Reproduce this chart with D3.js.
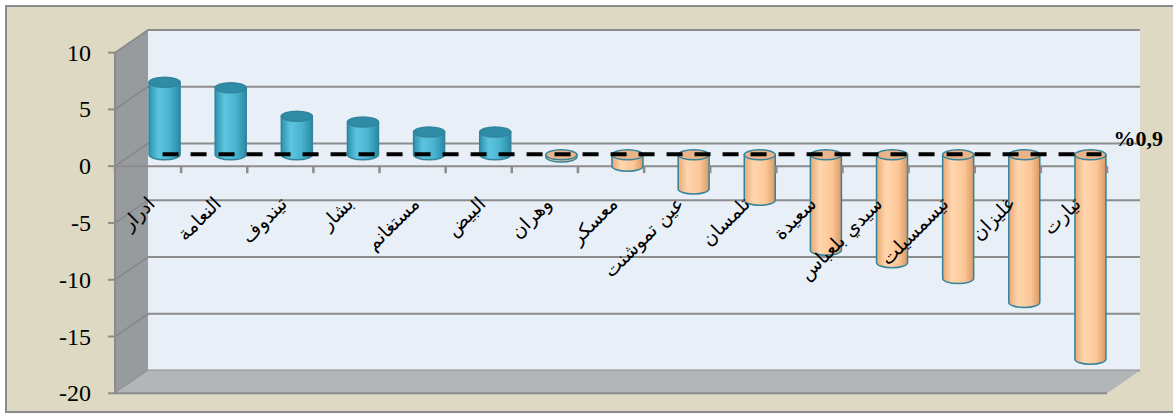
<!DOCTYPE html>
<html>
<head>
<meta charset="utf-8">
<script src="https://cdn.jsdelivr.net/npm/d3@7"></script>
<style>
    body { margin: 0; background: #fff; }
    svg { display: block; }
</style>
</head>
<body>
<div id="chart"></div>
<script>
(function(){
    "use strict";
    //====================================
    //data
    var categories = ['ادرار', 'النعامة', 'تيندوف', 'بشار', 'مستغانم', 'البيض', 'وهران', 'معسكر',
        'عين تموشنت', 'تلمسان', 'سعيدة', 'سيدي بلعباس', 'تيسمسيلت', 'غليزان', 'تيارت'];
    var values = [6.4, 5.9, 3.4, 2.9, 2.0, 2.0, -0.2, -1.0, -3.0, -4.0, -8.4, -9.5, -10.9, -13.0, -18.0];
    var averageValue = 0.9;
    var averageLabel = '%0,9';
    var yTicks = [10, 5, 0, -5, -10, -15, -20];

    //====================================
    //layout
    var width = 1173, height = 414;
    var plot = {left: 115, right: 1107, top: 52.6, bottom: 393.3};
    var depth = {dx: 33, dy: -22.7};
    var gridColor = '#8c8c8c';
    var outline = '#31849b';
    var serif = '"Liberation Serif", "Times New Roman", Times, serif';

    var svg = d3.select('#chart').append('svg')
        .attr('width', width)
        .attr('height', height);

    var x = d3.scaleBand().domain(categories).range([plot.left, plot.right]);
    var y = d3.scaleLinear().domain([-20, 10]).range([plot.bottom, plot.top]);
    var bw = x.bandwidth();

    //gradients for the cylinders
    var defs = svg.append('defs');
    function addGradient(id, stops){
        var g = defs.append('linearGradient').attr('id', id)
            .attr('x1', '0%').attr('x2', '100%').attr('y1', '0%').attr('y2', '0%');
        stops.forEach(function(s){
            g.append('stop').attr('offset', s[0]).attr('stop-color', s[1]);
        });
    }
    addGradient('gBlue', [['0%', '#2f92ae'], ['30%', '#5cc4df'], ['65%', '#4ab4d1'], ['100%', '#2a8aa5']]);
    addGradient('gOrange', [['0%', '#eaa874'], ['30%', '#ffd6ae'], ['70%', '#fcc696'], ['100%', '#d99a66']]);

    //outer frame
    svg.append('rect')
        .attr('x', 6).attr('y', 6)
        .attr('width', width).attr('height', 406)
        .style('fill', '#ddd9c3')
        .style('stroke', '#8a8a8a')
        .style('stroke-width', 2);

    //back wall
    svg.append('rect')
        .attr('x', plot.left + depth.dx)
        .attr('y', y(10) + depth.dy)
        .attr('width', plot.right - plot.left)
        .attr('height', y(-20) - y(10))
        .style('fill', '#e8eff7');

    svg.append('g').selectAll('line')
        .data(yTicks)
        .enter().append('line')
        .attr('x1', plot.left + depth.dx)
        .attr('x2', plot.right + depth.dx)
        .attr('y1', function(d){ return y(d) + depth.dy; })
        .attr('y2', function(d){ return y(d) + depth.dy; })
        .style('stroke', gridColor)
        .style('stroke-width', 2);

    //side wall
    svg.append('polygon')
        .attr('points', [
            [plot.left, y(10)], [plot.left + depth.dx, y(10) + depth.dy],
            [plot.left + depth.dx, y(-20) + depth.dy], [plot.left, y(-20)]
        ].join(' '))
        .style('fill', '#989b9e');

    svg.append('g').selectAll('line')
        .data(yTicks)
        .enter().append('line')
        .attr('x1', plot.left)
        .attr('x2', plot.left + depth.dx)
        .attr('y1', function(d){ return y(d); })
        .attr('y2', function(d){ return y(d) + depth.dy; })
        .style('stroke', '#84878a')
        .style('stroke-width', 1.5);

    //floor
    svg.append('polygon')
        .attr('points', [
            [plot.left, y(-20)], [plot.left + depth.dx, y(-20) + depth.dy],
            [plot.right + depth.dx, y(-20) + depth.dy], [plot.right, y(-20)]
        ].join(' '))
        .style('fill', '#b2b6b9');
    svg.append('line')
        .attr('x1', plot.left).attr('x2', plot.right)
        .attr('y1', y(-20)).attr('y2', y(-20))
        .style('stroke', gridColor).style('stroke-width', 2);

    //value axis
    svg.append('line')
        .attr('x1', plot.left).attr('x2', plot.left)
        .attr('y1', y(10)).attr('y2', y(-20))
        .style('stroke', gridColor).style('stroke-width', 2);
    var yAxis = svg.append('g').selectAll('g')
        .data(yTicks)
        .enter().append('g');
    yAxis.append('line')
        .attr('x1', plot.left - 7).attr('x2', plot.left)
        .attr('y1', function(d){ return y(d); })
        .attr('y2', function(d){ return y(d); })
        .style('stroke', gridColor).style('stroke-width', 2);
    yAxis.append('text')
        .attr('x', 91)
        .attr('y', function(d){ return y(d) + 8; })
        .attr('text-anchor', 'end')
        .attr('font-family', serif)
        .attr('font-size', 24)
        .attr('fill', '#000')
        .text(function(d){ return d; });

    //category axis line at zero
    svg.append('line')
        .attr('x1', plot.left).attr('x2', plot.right)
        .attr('y1', y(0)).attr('y2', y(0))
        .style('stroke', gridColor).style('stroke-width', 2);

    //cylinders
    var rx = 15.5, ry = 5;
    function cx(c){ return x(c) + bw / 2 + depth.dx / 2; }
    var bars = svg.append('g').selectAll('g')
        .data(categories.map(function(c, i){ return {name: c, value: values[i]}; }))
        .enter().append('g');

    bars.append('path')
        .attr('d', function(d){
            var y0 = y(0) + depth.dy / 2;
            var yv = y(d.value) + depth.dy / 2;
            var top = Math.min(y0, yv), bot = Math.max(y0, yv);
            var c = cx(d.name);
            return 'M' + (c - rx) + ',' + top + 'L' + (c - rx) + ',' + bot +
                'A' + rx + ',' + ry + ' 0 0 0 ' + (c + rx) + ',' + bot +
                'L' + (c + rx) + ',' + top + 'Z';
        })
        .style('fill', function(d){ return d.value >= 0 ? 'url(#gBlue)' : 'url(#gOrange)'; })
        .style('stroke', outline)
        .style('stroke-width', 1.5);

    bars.append('ellipse')
        .attr('cx', function(d){ return cx(d.name); })
        .attr('cy', function(d){ return Math.min(y(0), y(d.value)) + depth.dy / 2; })
        .attr('rx', rx)
        .attr('ry', ry)
        .style('fill', function(d){ return d.value >= 0 ? '#2f8ba6' : '#e9b48a'; })
        .style('stroke', outline)
        .style('stroke-width', 1.5);

    //ticks on the category axis
    svg.append('g').selectAll('line')
        .data(categories.map(function(c){ return x(c); }).concat([plot.right]))
        .enter().append('line')
        .attr('x1', function(d){ return d; })
        .attr('x2', function(d){ return d; })
        .attr('y1', y(0))
        .attr('y2', y(0) + 7)
        .style('stroke', gridColor).style('stroke-width', 2.5);

    //average line
    var yLine = y(averageValue) + depth.dy * 0.07;
    var lineStart = cx(categories[0]) - 2;
    var lineEnd = cx(categories[categories.length - 1]) + 11;
    svg.append('line')
        .attr('x1', lineStart).attr('x2', lineEnd)
        .attr('y1', yLine).attr('y2', yLine)
        .style('stroke', '#000')
        .style('stroke-width', 4)
        .style('stroke-dasharray', '16,12');
    svg.append('text')
        .attr('x', lineEnd + 12)
        .attr('y', yLine - 8)
        .attr('direction', 'ltr')
        .attr('font-family', serif)
        .attr('font-size', 22)
        .attr('font-weight', 'bold')
        .attr('fill', '#000')
        .text(averageLabel);

    //category labels
    svg.append('g').selectAll('text')
        .data(categories)
        .enter().append('text')
        .attr('transform', function(d){
            return 'translate(' + (x(d) + bw / 2 + 8) + ',' + 205 + ') rotate(-45)';
        })
        .attr('text-anchor', 'end')
        .attr('font-family', '"DejaVu Sans", sans-serif')
        .attr('font-size', 19)
        .attr('fill', '#000')
        .text(function(d){ return d; });
})();
</script>
</body>
</html>
